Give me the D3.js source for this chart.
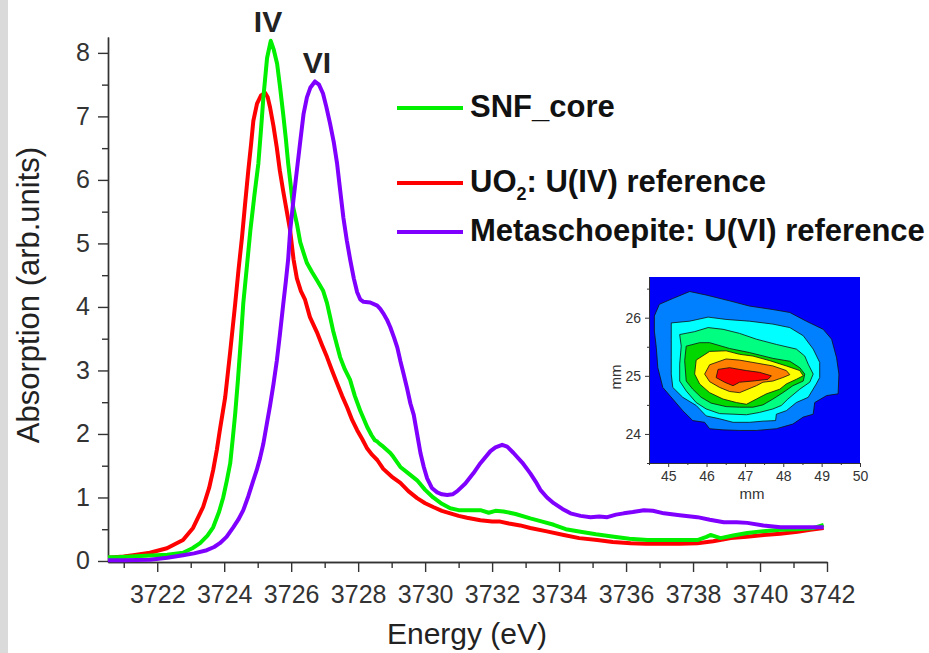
<!DOCTYPE html>
<html>
<head>
<meta charset="utf-8">
<script src="https://cdn.jsdelivr.net/npm/d3@7"></script>
<style>
  body { margin: 0; background: #fff; }
  svg { display: block; font-family: "Liberation Sans", Arial, sans-serif; }
</style>
</head>
<body>
<div id="chart"></div>
<script>
// spectra: [energy eV, absorption]
var snfCore = [
  [3720.53,0.06],[3720.8,0.06],[3721.5,0.08],[3722.3,0.1],[3722.77,0.13],[3723.05,0.2],[3723.28,0.28],
  [3723.5,0.4],[3723.67,0.53],[3723.85,0.78],[3723.97,1.0],[3724.08,1.27],[3724.18,1.54],[3724.26,1.95],
  [3724.33,2.33],[3724.41,2.85],[3724.5,3.5],[3724.57,4.06],[3724.68,4.65],[3724.78,5.2],[3724.9,5.75],
  [3725.02,6.26],[3725.1,6.8],[3725.17,7.3],[3725.28,7.92],[3725.39,8.19],[3725.48,8.05],[3725.58,7.83],
  [3725.67,7.45],[3725.76,7.04],[3725.84,6.65],[3725.91,6.26],[3726.0,5.85],[3726.06,5.57],[3726.17,5.31],
  [3726.27,5.02],[3726.37,4.85],[3726.47,4.69],[3726.62,4.55],[3726.77,4.42],[3726.95,4.26],[3727.07,4.06],
  [3727.16,3.85],[3727.25,3.63],[3727.46,3.21],[3727.6,3.02],[3727.76,2.85],[3727.9,2.6],[3728.06,2.37],
  [3728.27,2.11],[3728.4,1.98],[3728.5,1.9],[3728.57,1.88],[3728.65,1.84],[3728.75,1.8],[3728.96,1.7],
  [3729.05,1.64],[3729.26,1.48],[3729.5,1.38],[3729.76,1.27],[3730.0,1.12],[3730.24,1.0],[3730.5,0.9],
  [3730.75,0.83],[3731.0,0.8],[3731.25,0.8],[3731.65,0.8],[3731.9,0.76],[3732.1,0.79],[3732.34,0.78],
  [3732.7,0.74],[3733.14,0.67],[3733.5,0.62],[3733.84,0.57],[3734.2,0.5],[3734.64,0.46],[3735.1,0.42],
  [3735.64,0.38],[3736.1,0.35],[3736.64,0.33],[3737.1,0.33],[3737.63,0.33],[3738.13,0.33],[3738.4,0.38],
  [3738.52,0.41],[3738.82,0.36],[3739.2,0.4],[3739.62,0.44],[3740.1,0.47],[3740.61,0.49],[3741.1,0.5],
  [3741.61,0.52],[3741.9,0.57]
];
var uo2Ref = [
  [3720.53,0.05],[3721.0,0.07],[3721.28,0.09],[3721.78,0.13],[3722.29,0.2],[3722.77,0.33],[3723.07,0.52],
  [3723.37,0.85],[3723.55,1.15],[3723.67,1.43],[3723.78,1.75],[3723.87,2.06],[3724.03,2.58],[3724.18,3.3],
  [3724.33,4.06],[3724.43,4.6],[3724.53,5.09],[3724.62,5.6],[3724.72,6.15],[3724.8,6.55],[3724.87,6.93],
  [3724.98,7.2],[3725.1,7.33],[3725.22,7.37],[3725.3,7.3],[3725.37,7.14],[3725.47,6.85],[3725.57,6.51],
  [3725.66,6.15],[3725.76,5.83],[3725.87,5.5],[3725.97,5.2],[3726.07,4.75],[3726.17,4.45],[3726.29,4.25],
  [3726.41,4.12],[3726.56,3.84],[3726.77,3.6],[3726.92,3.4],[3727.07,3.21],[3727.22,3.0],[3727.37,2.8],
  [3727.52,2.6],[3727.67,2.42],[3727.82,2.22],[3727.97,2.06],[3728.12,1.92],[3728.27,1.77],[3728.42,1.67],
  [3728.57,1.59],[3728.75,1.45],[3729.0,1.33],[3729.26,1.23],[3729.5,1.1],[3729.76,0.99],[3730.0,0.91],
  [3730.24,0.85],[3730.5,0.79],[3730.75,0.75],[3731.0,0.71],[3731.25,0.68],[3731.65,0.64],[3732.0,0.62],
  [3732.24,0.62],[3732.5,0.59],[3732.84,0.56],[3733.14,0.52],[3733.6,0.47],[3734.14,0.41],[3734.6,0.36],
  [3735.14,0.33],[3735.6,0.3],[3736.14,0.28],[3736.6,0.27],[3737.13,0.27],[3737.6,0.27],[3738.13,0.28],
  [3738.6,0.31],[3739.13,0.36],[3739.6,0.38],[3740.11,0.41],[3740.6,0.43],[3741.12,0.46],[3741.5,0.49],
  [3741.9,0.52]
];
var metaschoepite = [
  [3720.53,0.01],[3721.0,0.01],[3721.78,0.02],[3722.3,0.05],[3722.77,0.09],[3723.1,0.12],[3723.48,0.17],
  [3723.7,0.22],[3723.87,0.28],[3724.07,0.38],[3724.27,0.53],[3724.42,0.65],[3724.57,0.8],[3724.72,1.02],
  [3724.87,1.27],[3724.97,1.43],[3725.07,1.62],[3725.17,1.85],[3725.27,2.15],[3725.37,2.45],[3725.47,2.78],
  [3725.57,3.15],[3725.66,3.55],[3725.76,4.03],[3725.84,4.4],[3725.91,4.75],[3725.97,5.2],[3726.07,5.7],
  [3726.17,6.15],[3726.27,6.6],[3726.37,7.04],[3726.47,7.3],[3726.57,7.45],[3726.71,7.55],[3726.83,7.5],
  [3726.95,7.36],[3727.05,7.15],[3727.16,6.89],[3727.27,6.6],[3727.37,6.26],[3727.46,5.85],[3727.56,5.4],
  [3727.66,5.05],[3727.76,4.75],[3727.87,4.45],[3727.97,4.23],[3728.06,4.12],[3728.16,4.08],[3728.36,4.07],
  [3728.57,4.02],[3728.66,3.97],[3728.75,3.9],[3728.86,3.8],[3728.96,3.68],[3729.07,3.52],[3729.17,3.36],
  [3729.26,3.15],[3729.35,2.96],[3729.46,2.72],[3729.56,2.48],[3729.66,2.3],[3729.76,2.0],[3729.86,1.7],
  [3729.96,1.48],[3730.06,1.3],[3730.2,1.15],[3730.36,1.08],[3730.5,1.05],[3730.66,1.04],[3730.82,1.05],
  [3730.96,1.1],[3731.2,1.22],[3731.44,1.38],[3731.65,1.54],[3731.95,1.73],[3732.1,1.79],[3732.3,1.83],
  [3732.45,1.8],[3732.64,1.7],[3732.9,1.55],[3733.14,1.38],[3733.3,1.25],[3733.44,1.12],[3733.64,1.0],
  [3733.84,0.91],[3734.1,0.82],[3734.34,0.75],[3734.64,0.71],[3734.94,0.69],[3735.2,0.7],[3735.44,0.69],
  [3735.7,0.73],[3735.93,0.75],[3736.2,0.77],[3736.53,0.8],[3736.8,0.79],[3737.13,0.75],[3737.6,0.72],
  [3738.13,0.69],[3738.5,0.65],[3738.92,0.61],[3739.3,0.61],[3739.62,0.6],[3740.1,0.56],[3740.61,0.53],
  [3741.2,0.53],[3741.9,0.53]
];

var seriesNames = ['SNF_core', 'UO2: U(IV) reference', 'Metaschoepite: U(VI) reference'];
var seriesColors = ['#00f000', '#ff0000', '#8000ff'];

var xMajorTicks = d3.range(3722, 3743, 2);
var xMinorTicks = d3.range(3721, 3742, 2);
var yMajorTicks = [0, 1, 2, 3, 4, 5, 6, 7, 8];
var yMinorTicks = [0.5, 1.5, 2.5, 3.5, 4.5, 5.5, 6.5, 7.5];

// inset map: contour outlines in mm, outer level first
var contourColors = ['#0080ff', '#00ffff', '#00ff80', '#00d800', '#ffff00', '#ff8000', '#ff0000'];
var contourLevels = [
  [[44.77,26.23],[45.12,26.33],[45.56,26.45],[45.99,26.39],[46.6,26.29],[47.12,26.2],[47.73,26.14],
   [48.17,26.09],[48.6,25.94],[49.04,25.8],[49.26,25.63],[49.39,25.31],[49.45,25.03],[49.43,24.69],
   [49.13,24.66],[48.82,24.54],[48.78,24.34],[48.52,24.29],[48.25,24.17],[47.82,24.09],[47.3,24.06],
   [46.86,24.06],[46.43,24.07],[46.08,24.09],[45.95,24.2],[45.64,24.23],[45.38,24.4],[45.12,24.6],
   [44.86,24.8],[44.73,25.14],[44.69,25.49],[44.64,25.77],[44.64,26.03]],
  [[45.08,25.91],[45.56,25.94],[46.04,26.01],[46.51,25.97],[47.12,25.94],[47.73,25.89],[48.17,25.83],
   [48.52,25.69],[48.78,25.46],[48.95,25.23],[48.95,24.97],[48.86,24.86],[48.65,24.63],[48.34,24.54],
   [48.08,24.4],[47.82,24.34],[47.8,24.23],[47.47,24.22],[47.12,24.2],[46.69,24.2],[46.34,24.26],
   [45.99,24.31],[45.73,24.49],[45.38,24.63],[45.12,24.8],[45.08,25.03],[45.08,25.31],[45.08,25.63]],
  [[45.3,25.71],[45.69,25.76],[46.04,25.83],[46.43,25.8],[46.86,25.73],[47.3,25.63],[47.82,25.54],
   [48.34,25.46],[48.56,25.34],[48.65,25.2],[48.78,25.03],[48.69,24.89],[48.43,24.77],[48.12,24.6],
   [47.95,24.49],[47.73,24.43],[47.38,24.37],[47.04,24.33],[46.69,24.34],[46.34,24.35],[45.99,24.43],
   [45.73,24.54],[45.47,24.74],[45.3,24.91],[45.3,25.2],[45.34,25.51]],
  [[45.47,25.51],[45.82,25.57],[46.08,25.57],[46.6,25.47],[47.12,25.4],[47.73,25.3],[48.17,25.25],
   [48.43,25.14],[48.56,25.03],[48.52,24.91],[48.25,24.83],[47.99,24.71],[47.73,24.6],[47.47,24.5],
   [47.21,24.46],[46.86,24.46],[46.51,24.47],[46.12,24.53],[45.86,24.63],[45.64,24.77],[45.47,24.91],
   [45.43,25.26]],
  [[45.73,25.27],[46.08,25.42],[46.51,25.43],[46.86,25.37],[47.21,25.34],[47.65,25.26],[48.08,25.17],
   [48.43,25.09],[48.52,25.0],[48.34,24.94],[48.08,24.86],[47.91,24.77],[47.56,24.69],[47.3,24.6],
   [47.04,24.51],[46.78,24.54],[46.43,24.6],[46.08,24.71],[45.82,24.86],[45.69,25.03]],
  [[46.08,25.19],[46.51,25.29],[46.86,25.27],[47.21,25.23],[47.73,25.17],[48.08,25.09],[48.17,25.02],
   [47.99,24.97],[47.73,24.91],[47.47,24.89],[47.3,24.83],[47.08,24.77],[46.86,24.71],[46.6,24.73],
   [46.34,24.8],[46.08,24.9],[45.95,25.03]],
  [[46.3,25.11],[46.6,25.14],[47.04,25.09],[47.38,25.06],[47.69,25.0],[47.6,24.94],[47.21,24.91],
   [46.86,24.89],[46.69,24.83],[46.47,24.89],[46.25,24.97]]
];
var insetXTicks = [45, 46, 47, 48, 49, 50];
var insetXMinor = [44.5, 45.5, 46.5, 47.5, 48.5, 49.5];
var insetYTicks = [24, 25, 26];
var insetYMinor = [23.5, 24.5, 25.5, 26.5];

var W = 929, H = 653;
var svg = d3.select('#chart').append('svg').attr('width', W).attr('height', H);

// grey strip at the left edge
svg.append('rect').attr('x', 0).attr('y', 0).attr('width', 8).attr('height', H).attr('fill', '#dadada');

var x = d3.scaleLinear().domain([3720.53, 3742]).range([108, 827]);
var y = d3.scaleLinear().domain([-0.016, 8.25]).range([562, 37]);

// axes
var axisColor = '#333';
function styleAxis(g) {
  g.selectAll('path, line').attr('stroke', axisColor).attr('stroke-width', 1.4);
  g.selectAll('text').attr('fill', '#333').attr('font-size', 25).attr('font-family', '"Liberation Sans", Arial, sans-serif');
}
svg.append('g').attr('transform', 'translate(0,562)')
  .call(d3.axisBottom(x).tickValues(xMinorTicks).tickSize(6).tickSizeOuter(0).tickFormat(''))
  .call(styleAxis);
svg.append('g').attr('transform', 'translate(0,562)')
  .call(d3.axisBottom(x).tickValues(xMajorTicks).tickSize(10).tickSizeOuter(0).tickPadding(13).tickFormat(d3.format('d')))
  .call(styleAxis);
svg.append('g').attr('transform', 'translate(108,0)')
  .call(d3.axisLeft(y).tickValues(yMinorTicks).tickSize(6).tickSizeOuter(0).tickFormat(''))
  .call(styleAxis);
svg.append('g').attr('transform', 'translate(108,0)')
  .call(d3.axisLeft(y).tickValues(yMajorTicks).tickSize(10).tickSizeOuter(0).tickPadding(8).tickFormat(d3.format('d')))
  .call(styleAxis);

// axis titles
svg.append('text').attr('x', 467).attr('y', 644).attr('text-anchor', 'middle')
  .attr('font-size', 30).attr('fill', '#222').text('Energy (eV)');
svg.append('text').attr('transform', 'translate(39,295) rotate(-90)').attr('text-anchor', 'middle')
  .attr('font-size', 31).attr('fill', '#222').text('Absorption (arb.units)');

// spectra
var line = d3.line().x(function (d) { return x(d[0]); }).y(function (d) { return y(d[1]); });
var spectra = [uo2Ref, snfCore, metaschoepite];
var spectraColors = [seriesColors[1], seriesColors[0], seriesColors[2]];
spectra.forEach(function (s, i) {
  svg.append('path').datum(s).attr('d', line)
    .attr('fill', 'none').attr('stroke', spectraColors[i])
    .attr('stroke-width', 4).attr('stroke-linejoin', 'round');
});

// peak labels
svg.append('text').attr('x', 268).attr('y', 32).attr('text-anchor', 'middle')
  .attr('font-size', 30).attr('font-weight', 'bold').attr('fill', '#222').text('IV');
svg.append('text').attr('x', 317).attr('y', 73).attr('text-anchor', 'middle')
  .attr('font-size', 30).attr('font-weight', 'bold').attr('fill', '#222').text('VI');

// legend
var legendY = [108, 183, 232];
var legend = svg.append('g');
legendY.forEach(function (ly, i) {
  legend.append('line').attr('x1', 397).attr('x2', 463).attr('y1', ly).attr('y2', ly)
    .attr('stroke', seriesColors[i]).attr('stroke-width', 4);
  var t = legend.append('text').attr('x', 470).attr('y', ly + 9)
    .attr('font-size', 31).attr('font-weight', 'bold').attr('fill', '#111');
  if (i === 1) {
    t.append('tspan').text('UO');
    t.append('tspan').attr('font-size', 18).attr('dy', 8).text('2');
    t.append('tspan').attr('dy', -8).text(': U(IV) reference');
  } else {
    t.text(seriesNames[i]);
  }
});

// inset contour map
var ix = d3.scaleLinear().domain([44.5, 50]).range([649, 860]);
var iy = d3.scaleLinear().domain([23.5, 26.7]).range([463, 277]);
var inset = svg.append('g');
inset.append('rect').attr('x', ix(44.5)).attr('y', iy(26.7))
  .attr('width', ix(50) - ix(44.5)).attr('height', iy(23.5) - iy(26.7)).attr('fill', '#0000fa');
var ring = d3.line().x(function (d) { return ix(d[0]); }).y(function (d) { return iy(d[1]); })
  .curve(d3.curveLinearClosed);
contourLevels.forEach(function (poly, i) {
  inset.append('path').datum(poly).attr('d', ring)
    .attr('fill', contourColors[i]).attr('stroke', '#111').attr('stroke-width', 0.8);
});

function styleInsetAxis(g) {
  g.selectAll('path, line').attr('stroke', '#333').attr('stroke-width', 1);
  g.selectAll('text').attr('fill', '#333').attr('font-size', 14).attr('font-family', '"Liberation Sans", Arial, sans-serif');
}
inset.append('g').attr('transform', 'translate(0,463)')
  .call(d3.axisBottom(ix).tickValues(insetXMinor).tickSize(2).tickSizeOuter(0).tickFormat(''))
  .call(styleInsetAxis);
inset.append('g').attr('transform', 'translate(0,463)')
  .call(d3.axisBottom(ix).tickValues(insetXTicks).tickSize(4).tickSizeOuter(0).tickPadding(4).tickFormat(d3.format('d')))
  .call(styleInsetAxis);
inset.append('g').attr('transform', 'translate(649,0)')
  .call(d3.axisLeft(iy).tickValues(insetYMinor).tickSize(2).tickSizeOuter(0).tickFormat(''))
  .call(styleInsetAxis);
inset.append('g').attr('transform', 'translate(649,0)')
  .call(d3.axisLeft(iy).tickValues(insetYTicks).tickSize(4).tickSizeOuter(0).tickPadding(4).tickFormat(d3.format('d')))
  .call(styleInsetAxis);
inset.append('text').attr('x', 752).attr('y', 499).attr('text-anchor', 'middle')
  .attr('font-size', 15).attr('fill', '#333').text('mm');
inset.append('text').attr('transform', 'translate(621,377) rotate(-90)').attr('text-anchor', 'middle')
  .attr('font-size', 15).attr('fill', '#333').text('mm');
</script>
</body>
</html>
